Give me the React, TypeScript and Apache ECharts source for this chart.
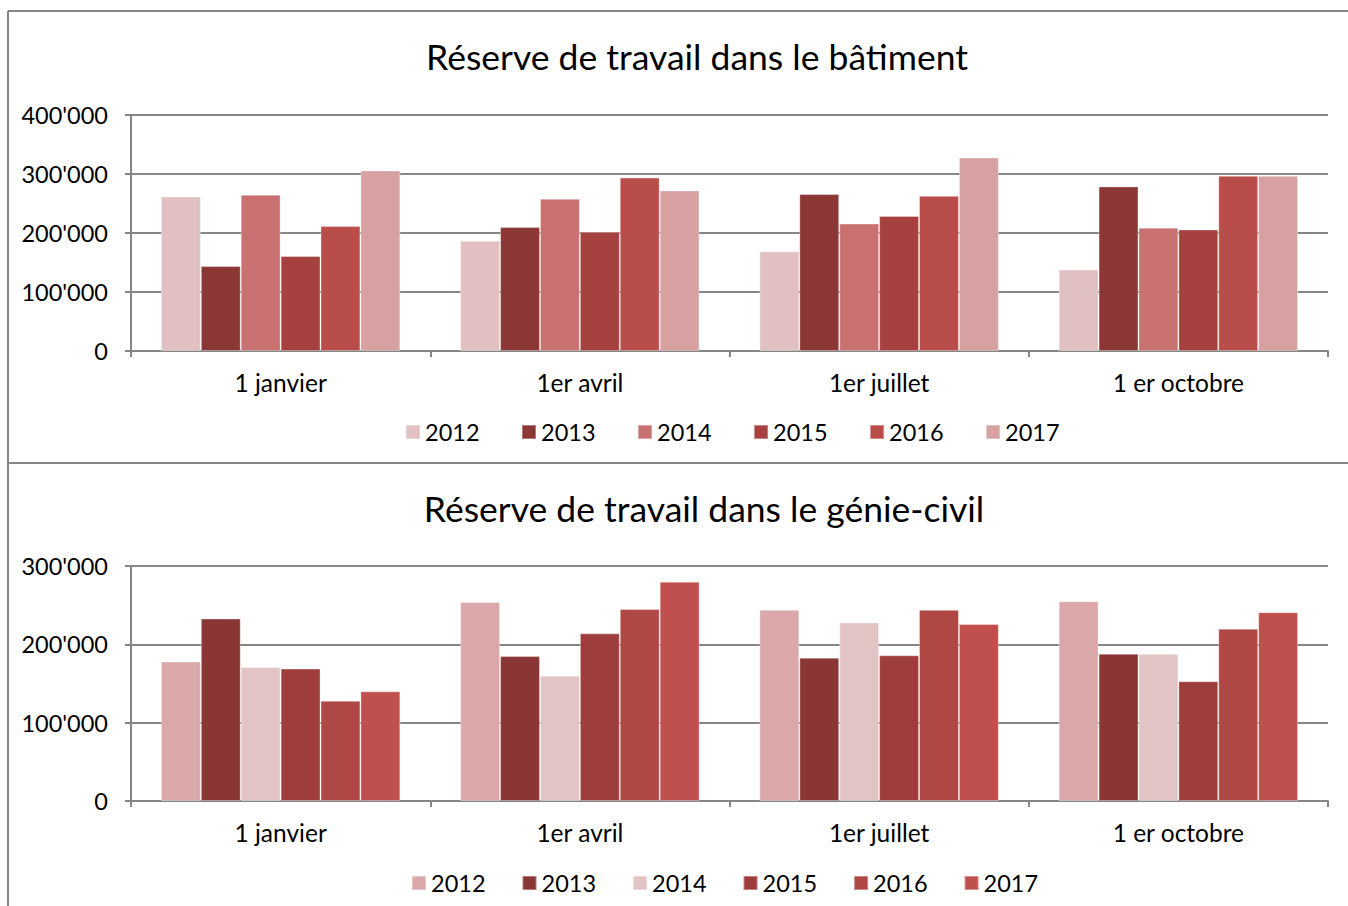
import React, { useEffect, useRef } from "react";
import * as echarts from "echarts";

const categories = ["1 janvier", "1er avril", "1er juillet", "1 er octobre"];
const years = ["2012", "2013", "2014", "2015", "2016", "2017"];

// Réserve de travail dans le bâtiment (per year, values at the 4 dates)
const bat2012 = [262000, 187000, 169000, 138000];
const bat2013 = [144000, 210000, 266000, 279000];
const bat2014 = [265000, 258000, 216000, 209000];
const bat2015 = [161000, 202000, 229000, 206000];
const bat2016 = [212000, 294000, 263000, 297000];
const bat2017 = [306000, 272000, 328000, 297000];

// Réserve de travail dans le génie-civil
const gc2012 = [178000, 254000, 244000, 255000];
const gc2013 = [233000, 185000, 183000, 188000];
const gc2014 = [171000, 160000, 228000, 188000];
const gc2015 = [169000, 214000, 186000, 153000];
const gc2016 = [128000, 245000, 244000, 220000];
const gc2017 = [140000, 280000, 226000, 241000];

const batTicks = [0, 100000, 200000, 300000, 400000];
const gcTicks = [0, 100000, 200000, 300000];

const batColors = ["#E0C0C1", "#8B3736", "#C87170", "#A54240", "#B84D4A", "#D7A1A1"];
const gcColors = ["#DAA8A9", "#8A3634", "#E2C4C5", "#9E3E3C", "#AF4845", "#C0504D"];

const FONT = "Lato, 'Open Sans', sans-serif";
const GRAY = "#868686";

function fmt(v: number): string {
  return String(Math.round(v)).replace(/\B(?=(\d{3})+(?!\d))/g, "'");
}

function buildOption(opts: {
  title: string;
  titleX: number;
  titleY: number;
  gridTop: number;
  gridHeight: number;
  max: number;
  ticks: number[];
  data: number[][];
  colors: string[];
  legendLeft: number;
  legendTop: number;
  legendGap: number;
  borderLines: any[];
}) {
  return {
    animation: false,
    textStyle: { fontFamily: FONT },
    grid: {
      left: 131,
      top: opts.gridTop,
      width: 1197,
      height: opts.gridHeight,
      containLabel: false,
    },
    legend: {
      data: years,
      left: opts.legendLeft,
      top: opts.legendTop,
      padding: 0,
      itemWidth: 14,
      itemHeight: 14,
      itemGap: opts.legendGap,
      icon: "rect",
      textStyle: { fontFamily: FONT, fontSize: 23.5, color: "#000" },
      selectedMode: false,
    },
    xAxis: {
      type: "category",
      data: categories,
      axisLine: { lineStyle: { color: GRAY, width: 2 } },
      axisTick: { show: true, length: 6, lineStyle: { color: GRAY, width: 2 } },
      axisLabel: { fontFamily: FONT, fontSize: 24.5, color: "#000", margin: 19 },
    },
    yAxis: {
      type: "value",
      min: 0,
      max: opts.max,
      interval: 100000,
      axisLine: { show: true, lineStyle: { color: GRAY, width: 2 } },
      axisTick: { show: true, length: 6, lineStyle: { color: GRAY, width: 2 } },
      splitLine: { show: true, lineStyle: { color: GRAY, width: 2 } },
      axisLabel: {
        fontFamily: FONT,
        fontSize: 23.5,
        color: "#000",
        margin: 23,
        formatter: (v: number) => (opts.ticks.includes(v) ? fmt(v) : ""),
      },
    },
    series: years.map((y, i) => ({
      name: y,
      type: "bar",
      data: opts.data[i],
      barGap: "0%",
      barCategoryGap: "20%",
      itemStyle: { color: opts.colors[i], borderColor: "rgba(255,255,255,0.35)", borderWidth: 1 },
    })),
    graphic: [
      ...opts.borderLines,
      {
        type: "text",
        x: opts.titleX,
        y: opts.titleY,
        style: {
          text: opts.title,
          fontFamily: FONT,
          fontSize: 35.5,
          fill: "#000",
          textAlign: "center",
          textVerticalAlign: "middle",
        },
      },
    ],
  };
}

function Chart({ top, height, option }: { top: number; height: number; option: any }) {
  const ref = useRef<HTMLDivElement>(null);
  useEffect(() => {
    if (!ref.current) return;
    const chart = echarts.init(ref.current, undefined, { renderer: "svg" });
    chart.setOption(option);
    return () => chart.dispose();
  }, []);
  return (
    <div
      ref={ref}
      style={{ position: "absolute", left: 0, top, width: 1348, height }}
    />
  );
}

export default function App() {
  const topOption = buildOption({
    title: "Réserve de travail dans le bâtiment",
    titleX: 697,
    titleY: 56,
    gridTop: 115,
    gridHeight: 236,
    max: 400000,
    ticks: batTicks,
    data: [bat2012, bat2013, bat2014, bat2015, bat2016, bat2017],
    colors: batColors,
    legendLeft: 405,
    legendTop: 420,
    legendGap: 41.5,
    borderLines: [
      { type: "line", shape: { x1: 8, y1: 11, x2: 1348, y2: 11 }, style: { stroke: GRAY, lineWidth: 2 } },
      { type: "line", shape: { x1: 8, y1: 11, x2: 8, y2: 465 }, style: { stroke: GRAY, lineWidth: 2 } },
      { type: "line", shape: { x1: 8, y1: 463, x2: 1348, y2: 463 }, style: { stroke: GRAY, lineWidth: 2 } },
    ],
  });
  const bottomOption = buildOption({
    title: "Réserve de travail dans le génie-civil",
    titleX: 704,
    titleY: 43,
    gridTop: 101,
    gridHeight: 235,
    max: 300000,
    ticks: gcTicks,
    data: [gc2012, gc2013, gc2014, gc2015, gc2016, gc2017],
    colors: gcColors,
    legendLeft: 411,
    legendTop: 406,
    legendGap: 36,
    borderLines: [
      { type: "line", shape: { x1: 8, y1: 0, x2: 8, y2: 441 }, style: { stroke: GRAY, lineWidth: 2 } },
    ],
  });
  return (
    <div style={{ position: "absolute", left: 0, top: 0, width: 1348, height: 906, background: "#fff" }}>
      <Chart top={0} height={465} option={topOption} />
      <Chart top={465} height={441} option={bottomOption} />
    </div>
  );
}
